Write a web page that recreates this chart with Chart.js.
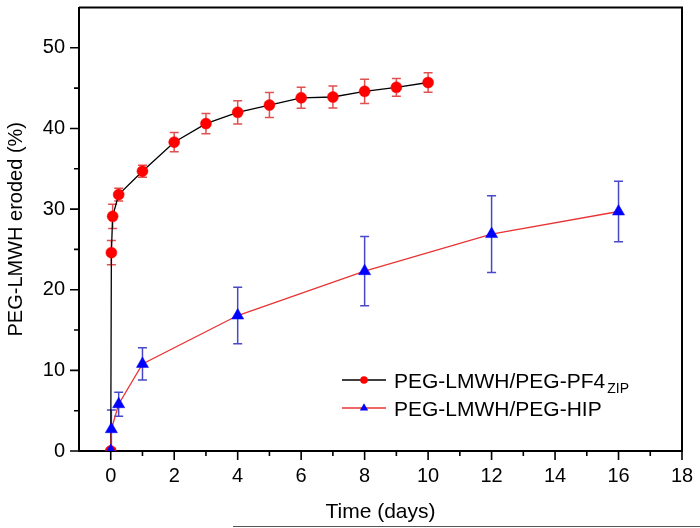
<!DOCTYPE html>
<html>
<head>
<meta charset="utf-8">
<script src="https://cdn.jsdelivr.net/npm/chart.js@4"></script>
<style>
  html, body { margin: 0; padding: 0; background: #fff; }
  #wrap { position: relative; width: 700px; height: 528px; }
  #baseRule { position: absolute; left: 233px; top: 526px; width: 467px; height: 1px; background: #555; }
</style>
</head>
<body>
<div id="wrap">
  <canvas id="c" width="700" height="528"></canvas>
  <div id="baseRule"></div>
</div>
<script>
// ---- data ----
const pf4Times  = [0, 0.02, 0.06, 0.25, 1, 2, 3, 4, 5, 6, 7, 8, 9, 10];
const pf4Values = [0, 24.6, 29.1, 31.8, 34.7, 38.3, 40.6, 42.0, 42.9, 43.8, 43.9, 44.6, 45.1, 45.7];
const pf4Errors = [0, 1.5, 1.5, 0.8, 0.75, 1.2, 1.25, 1.45, 1.55, 1.3, 1.35, 1.5, 1.1, 1.2];

const hipTimes  = [0, 0.02, 0.25, 1, 4, 8, 12, 16];
const hipValues = [0, 2.7, 5.8, 10.8, 16.8, 22.3, 26.9, 29.7];
const hipErrors = [0, 2.4, 1.5, 2.0, 3.5, 4.3, 4.75, 3.75];

const xMajorTicks = [0, 2, 4, 6, 8, 10, 12, 14, 16, 18];
const xMinorTicks = [1, 3, 5, 7, 9, 11, 13, 15, 17];
const yMajorTicks = [0, 10, 20, 30, 40, 50];
const yMinorTicks = [5, 15, 25, 35, 45];

const seriesNames = ['PEG-LMWH/PEG-PF4', 'PEG-LMWH/PEG-HIP'];
const seriesSubscripts = ['ZIP', ''];
const xTitle = 'Time (days)';
const yTitle = 'PEG-LMWH eroded (%)';

const errorSets = [pf4Errors, hipErrors];
const errorColors = ['#e05050', '#4848c8'];

const FONT = '"Liberation Sans", Arial, Helvetica, sans-serif';

const toPoints = (xs, ys) => xs.map((x, i) => ({ x: x, y: ys[i] }));

// error bars drawn beneath markers
const errorBarPlugin = {
  id: 'errorBars',
  beforeDatasetsDraw(chart) {
    const ctx = chart.ctx;
    const yScale = chart.scales.y;
    ctx.save();
    ctx.lineWidth = 1.5;
    chart.data.datasets.forEach((ds, i) => {
      const meta = chart.getDatasetMeta(i);
      const errs = errorSets[i];
      ctx.strokeStyle = errorColors[i];
      meta.data.forEach((pt, j) => {
        const e = errs[j];
        if (!e) return;
        const v = ds.data[j].y;
        const yt = yScale.getPixelForValue(v + e);
        const yb = yScale.getPixelForValue(v - e);
        const x = pt.x;
        ctx.beginPath();
        ctx.moveTo(x, yt); ctx.lineTo(x, yb);
        ctx.moveTo(x - 4.5, yt); ctx.lineTo(x + 4.5, yt);
        ctx.moveTo(x - 4.5, yb); ctx.lineTo(x + 4.5, yb);
        ctx.stroke();
      });
    });
    ctx.restore();
  }
};

// frame, major/minor ticks, legend
const framePlugin = {
  id: 'frame',
  afterDraw(chart) {
    const ctx = chart.ctx;
    const { left, right, top, bottom } = chart.chartArea;
    const xs = chart.scales.x, ys = chart.scales.y;
    ctx.save();
    ctx.strokeStyle = '#000';
    ctx.lineWidth = 2;
    ctx.beginPath();
    ctx.moveTo(left, top); ctx.lineTo(right, top); ctx.lineTo(right, bottom);
    ctx.stroke();
    ctx.lineWidth = 1.6;
    ctx.beginPath();
    xMajorTicks.forEach(v => { const p = xs.getPixelForValue(v); ctx.moveTo(p, bottom); ctx.lineTo(p, bottom + 9); });
    xMinorTicks.forEach(v => { const p = xs.getPixelForValue(v); ctx.moveTo(p, bottom); ctx.lineTo(p, bottom + 5); });
    yMajorTicks.forEach(v => { const p = ys.getPixelForValue(v); ctx.moveTo(left, p); ctx.lineTo(left - 9, p); });
    yMinorTicks.forEach(v => { const p = ys.getPixelForValue(v); ctx.moveTo(left, p); ctx.lineTo(left - 5, p); });
    ctx.stroke();

    // legend
    const baseX = 342, lineEnd = 386, markX = 364, textX = 394;
    const rows = [380, 408];
    chart.data.datasets.forEach((ds, i) => {
      const cy = rows[i];
      ctx.strokeStyle = ds.borderColor;
      ctx.lineWidth = 1.3;
      ctx.beginPath(); ctx.moveTo(baseX, cy); ctx.lineTo(lineEnd, cy); ctx.stroke();
      ctx.fillStyle = ds.pointBackgroundColor;
      ctx.beginPath();
      if (ds.pointStyle === 'triangle') {
        const r = 4.8;
        ctx.moveTo(markX, cy - r);
        ctx.lineTo(markX + r * 0.866, cy + r * 0.5);
        ctx.lineTo(markX - r * 0.866, cy + r * 0.5);
        ctx.closePath();
      } else {
        ctx.arc(markX, cy, 3.8, 0, Math.PI * 2);
      }
      ctx.fill();
      ctx.fillStyle = '#000';
      ctx.textBaseline = 'alphabetic';
      ctx.textAlign = 'left';
      ctx.font = '21px ' + FONT;
      const base = cy + 7.5;
      ctx.fillText(seriesNames[i], textX, base);
      if (seriesSubscripts[i]) {
        const w = ctx.measureText(seriesNames[i]).width;
        ctx.font = '14px ' + FONT;
        ctx.fillText(seriesSubscripts[i], textX + w + 2, base + 5);
      }
    });
    ctx.restore();
  }
};

new Chart(document.getElementById('c'), {
  type: 'line',
  data: {
    datasets: [
      {
        label: seriesNames[0] + seriesSubscripts[0],
        data: toPoints(pf4Times, pf4Values),
        borderColor: '#000000',
        borderWidth: 1.3,
        pointStyle: 'circle',
        pointRadius: 5.5,
        pointBackgroundColor: '#ff0000',
        pointBorderColor: '#ff0000',
        pointBorderWidth: 0.5,
        tension: 0,
        order: 2
      },
      {
        label: seriesNames[1],
        data: toPoints(hipTimes, hipValues),
        borderColor: '#e83434',
        borderWidth: 1.3,
        pointStyle: 'triangle',
        pointRadius: 7,
        pointBackgroundColor: '#0000ff',
        pointBorderColor: '#0000ff',
        pointBorderWidth: 0.5,
        tension: 0,
        order: 1
      }
    ]
  },
  options: {
    responsive: false,
    animation: false,
    devicePixelRatio: 1,
    layout: { padding: { top: 1, right: 18, left: 0, bottom: 0 } },
    plugins: { legend: { display: false }, tooltip: { enabled: false } },
    scales: {
      x: {
        type: 'linear',
        min: -1, max: 18,
        afterBuildTicks: s => { s.ticks = xMajorTicks.map(v => ({ value: v })); },
        afterFit: s => { s.height = 77; s.paddingLeft = 0; s.paddingRight = 0; s.paddingTop = 0; s.paddingBottom = 0; },
        grid: { display: false, drawTicks: false },
        border: { display: true, color: '#000', width: 2 },
        ticks: { color: '#000', padding: 13, font: { family: FONT, size: 20 }, maxRotation: 0, autoSkip: false },
        title: { display: true, text: xTitle, color: '#000', font: { family: FONT, size: 21 }, padding: { top: 0, bottom: 3 } }
      },
      y: {
        type: 'linear',
        min: 0, max: 55,
        afterBuildTicks: s => { s.ticks = yMajorTicks.map(v => ({ value: v })); },
        afterFit: s => { s.width = 79; s.paddingLeft = 0; s.paddingRight = 0; s.paddingTop = 0; s.paddingBottom = 0; },
        grid: { display: false, drawTicks: false },
        border: { display: true, color: '#000', width: 2 },
        ticks: { color: '#000', padding: 14, font: { family: FONT, size: 20 } },
        title: { display: true, text: yTitle, color: '#000', font: { family: FONT, size: 20 }, padding: { top: 4, bottom: 0 } }
      }
    }
  },
  plugins: [errorBarPlugin, framePlugin]
});
</script>
</body>
</html>
